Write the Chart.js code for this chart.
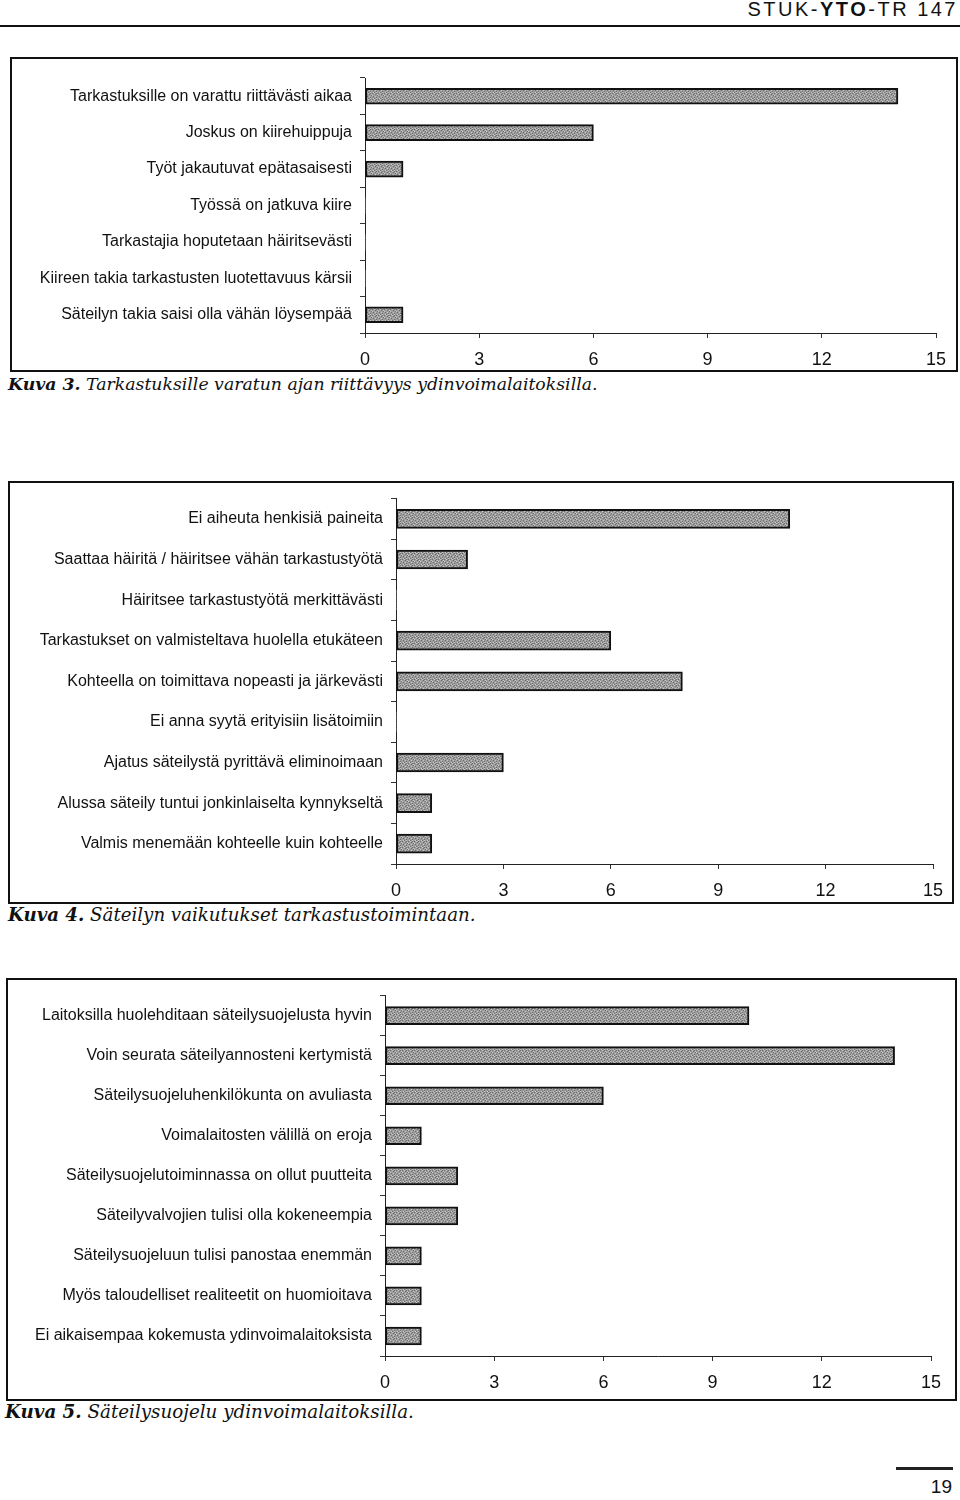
<!DOCTYPE html>
<html lang="fi">
<head>
<meta charset="utf-8">
<title>STUK-YTO-TR 147</title>
<script src="https://cdn.jsdelivr.net/npm/chart.js@4.4.1/dist/chart.umd.min.js"></script>
<style>
  html, body { margin: 0; padding: 0; background: #fff; }
  #page { position: relative; width: 960px; height: 1500px; overflow: hidden;
          font-family: "Liberation Sans", Arial, sans-serif; color: #111; }
  .header { position: absolute; right: 2px; top: -3px; font-size: 20px; line-height: 24px;
            letter-spacing: 2.5px; white-space: nowrap; }
  .rule { position: absolute; left: 0; top: 25px; width: 960px; height: 2px; background: #111; }
  .box { position: absolute; border: 2px solid #111; box-sizing: border-box; }
  .chart { position: absolute; left: 0; }
  .caption { position: absolute; left: 8px; font-family: "DejaVu Serif", serif; font-style: italic;
             line-height: 20px; white-space: nowrap; }
  .pageline { position: absolute; left: 896px; top: 1467px; width: 57px; height: 3px; background: #222; }
  .pageno { position: absolute; right: 8px; top: 1476px; font-size: 19px; line-height: 22px; }
</style>
</head>
<body>
<div id="page">
  <div class="header">STUK-<b>YTO</b>-TR 147</div>
  <div class="rule"></div>

  <div class="box" style="left:10px; top:57px; width:948px; height:315px;"></div>
  <canvas id="chart3" class="chart" width="960" height="315" style="top:57px;"></canvas>
  <div class="caption" style="top:374px; font-size:17.3px;"><b>Kuva 3.</b> Tarkastuksille varatun ajan riittävyys ydinvoimalaitoksilla.</div>

  <div class="box" style="left:8px; top:481px; width:946px; height:423px;"></div>
  <canvas id="chart4" class="chart" width="960" height="423" style="top:481px;"></canvas>
  <div class="caption" style="top:905px; font-size:18.2px;"><b>Kuva 4.</b> Säteilyn vaikutukset tarkastustoimintaan.</div>

  <div class="box" style="left:6px; top:978px; width:951px; height:423px;"></div>
  <canvas id="chart5" class="chart" width="960" height="423" style="top:978px;"></canvas>
  <div class="caption" style="top:1402px; left:5px; font-size:18.3px;"><b>Kuva 5.</b> Säteilysuojelu ydinvoimalaitoksilla.</div>

  <div class="pageline"></div>
  <div class="pageno">19</div>
</div>

<script>
// x axis ticks shared by all three charts
const xTicks = [0, 3, 6, 9, 12, 15];

// Kuva 3
const labels3 = [
  "Tarkastuksille on varattu riittävästi aikaa",
  "Joskus on kiirehuippuja",
  "Työt jakautuvat epätasaisesti",
  "Työssä on jatkuva kiire",
  "Tarkastajia hoputetaan häiritsevästi",
  "Kiireen takia tarkastusten luotettavuus kärsii",
  "Säteilyn takia saisi olla vähän löysempää",
];
const values3 = [14, 6, 1, 0, 0, 0, 1];

// Kuva 4
const labels4 = [
  "Ei aiheuta henkisiä paineita",
  "Saattaa häiritä / häiritsee vähän tarkastustyötä",
  "Häiritsee tarkastustyötä merkittävästi",
  "Tarkastukset on valmisteltava huolella etukäteen",
  "Kohteella on toimittava nopeasti ja järkevästi",
  "Ei anna syytä erityisiin lisätoimiin",
  "Ajatus säteilystä pyrittävä eliminoimaan",
  "Alussa säteily tuntui jonkinlaiselta kynnykseltä",
  "Valmis menemään kohteelle kuin kohteelle",
];
const values4 = [11, 2, 0, 6, 8, 0, 3, 1, 1];

// Kuva 5
const labels5 = [
  "Laitoksilla huolehditaan säteilysuojelusta hyvin",
  "Voin seurata säteilyannosteni kertymistä",
  "Säteilysuojeluhenkilökunta on avuliasta",
  "Voimalaitosten välillä on eroja",
  "Säteilysuojelutoiminnassa on ollut puutteita",
  "Säteilyvalvojien tulisi olla kokeneempia",
  "Säteilysuojeluun tulisi panostaa enemmän",
  "Myös taloudelliset realiteetit on huomioitava",
  "Ei aikaisempaa kokemusta ydinvoimalaitoksista",
];
const values5 = [10, 14, 6, 1, 2, 2, 1, 1, 1];

// grey halftone look of the printed bars
function barPattern() {
  const c = document.createElement("canvas");
  c.width = 6;
  c.height = 6;
  const g = c.getContext("2d");
  g.fillStyle = "#9c9c9c";
  g.fillRect(0, 0, 6, 6);
  g.fillStyle = "#6c6c6c";
  [[0, 0], [3, 1], [1, 3], [4, 4], [2, 5], [5, 2], [4, 0]].forEach(([x, y]) => g.fillRect(x, y, 1, 1));
  g.fillStyle = "#c8c8c8";
  [[2, 0], [5, 1], [0, 2], [3, 3], [1, 5], [4, 5]].forEach(([x, y]) => g.fillRect(x, y, 1, 1));
  return g.createPattern(c, "repeat");
}

const fill = barPattern();
const labelFont = { family: "'Liberation Sans', Arial, sans-serif", size: 16 };
const tickFont = { family: "'Liberation Sans', Arial, sans-serif", size: 18 };

// geo: plot area in canvas pixels
function makeChart(id, labels, values, geo) {
  const canvas = document.getElementById(id);
  return new Chart(canvas.getContext("2d"), {
    type: "bar",
    data: {
      labels: labels,
      datasets: [{
        data: values,
        backgroundColor: fill,
        borderColor: "#111",
        borderWidth: (c) => (c.raw === 0 ? 0 : 2),
        borderSkipped: false,
        barThickness: geo.bar,
      }],
    },
    options: {
      indexAxis: "y",
      responsive: false,
      animation: false,
      devicePixelRatio: 1,
      layout: {
        padding: { top: geo.top, right: canvas.width - geo.right, left: 0, bottom: 0 },
      },
      scales: {
        x: {
          type: "linear",
          position: "bottom",
          min: xTicks[0],
          max: xTicks[xTicks.length - 1],
          afterBuildTicks: (s) => { s.ticks = xTicks.map((v) => ({ value: v })); },
          afterFit: (s) => { s.height = canvas.height - geo.bottom; },
          grid: { drawOnChartArea: false, drawTicks: true, tickLength: 5, color: "#333" },
          border: { display: true, color: "#222", width: 1 },
          ticks: { color: "#111", font: tickFont, padding: 11, maxRotation: 0, autoSkip: false },
        },
        y: {
          type: "category",
          afterFit: (s) => { s.width = geo.left; },
          grid: { offset: true, drawOnChartArea: false, drawTicks: true, tickLength: 5, color: "#333" },
          border: { display: true, color: "#222", width: 1 },
          ticks: { color: "#111", font: labelFont, padding: 8, autoSkip: false },
        },
      },
      plugins: {
        legend: { display: false },
        tooltip: { enabled: false },
      },
    },
  });
}

makeChart("chart3", labels3, values3, { left: 365, right: 936, top: 21, bottom: 276, bar: 16 });
makeChart("chart4", labels4, values4, { left: 396, right: 933, top: 16, bottom: 383, bar: 19 });
makeChart("chart5", labels5, values5, { left: 385, right: 931, top: 13, bottom: 378, bar: 18 });
</script>
</body>
</html>
